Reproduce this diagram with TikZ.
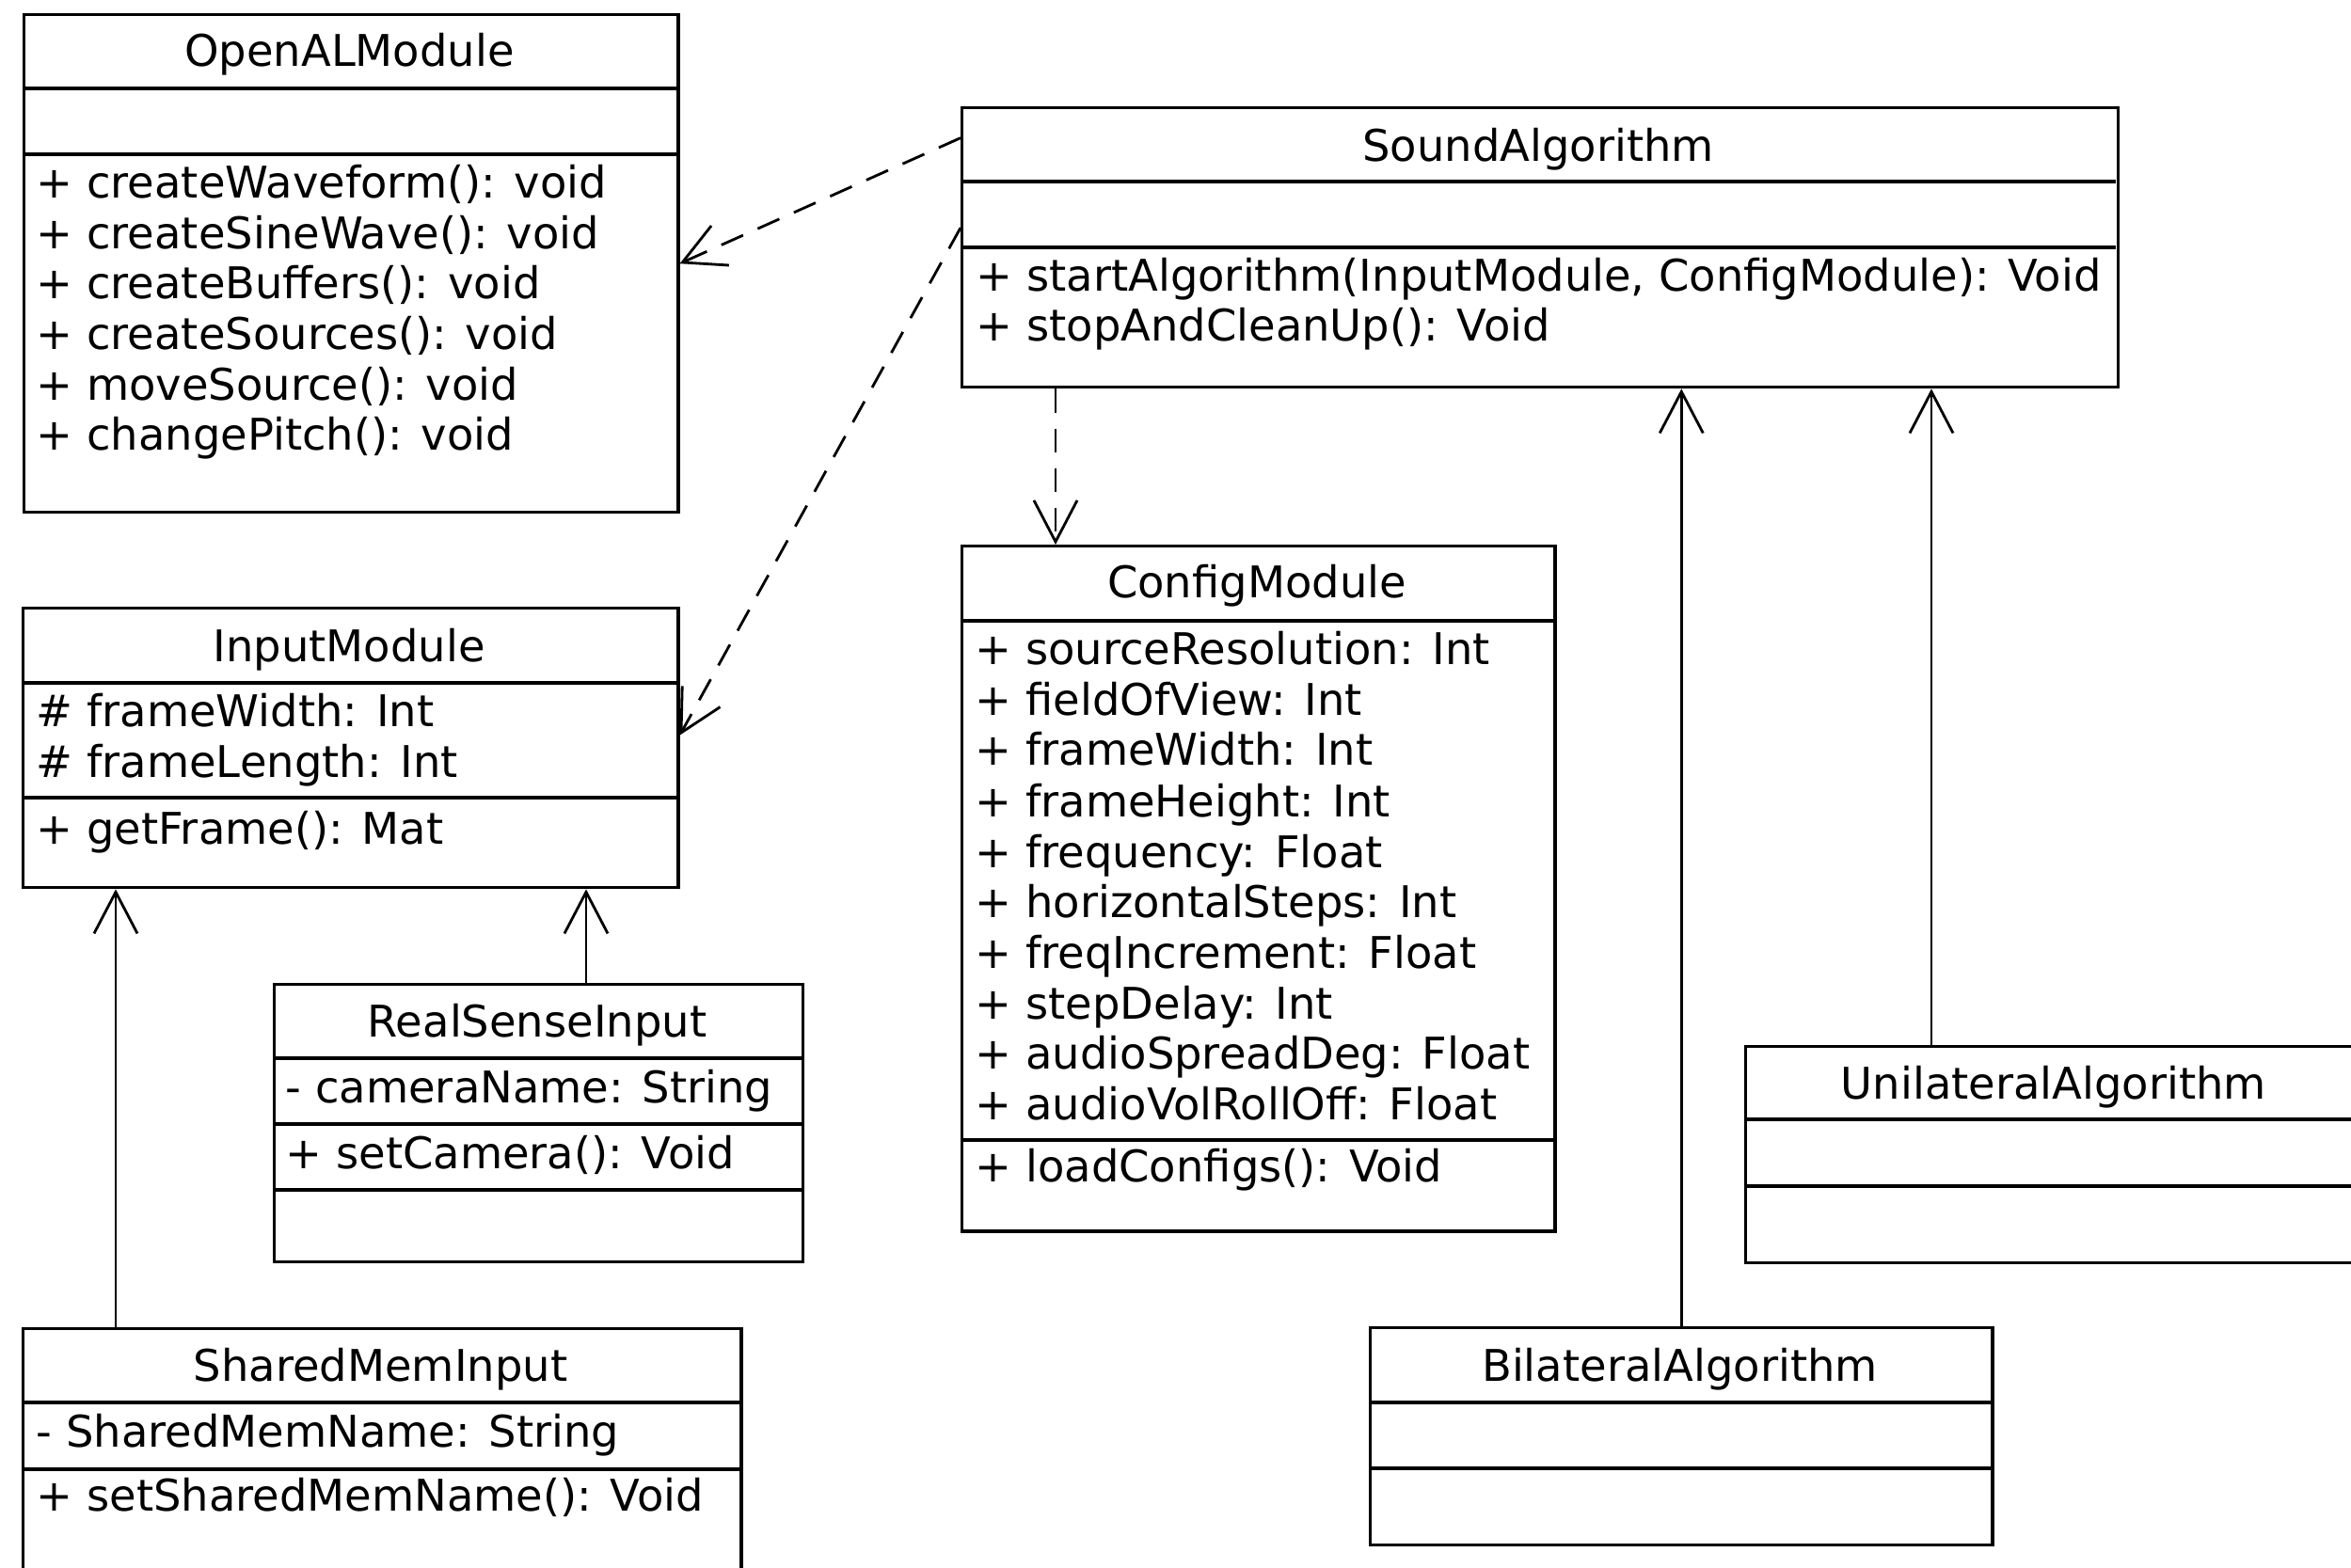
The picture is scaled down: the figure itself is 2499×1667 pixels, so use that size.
\documentclass[tikz,border=0pt]{standalone}
\usepackage{fontspec}
\setmainfont{DejaVu Sans}
\usetikzlibrary{arrows.meta,calc}
\begin{document}
\begin{tikzpicture}[x=0.01cm,y=-0.01cm,
  cls/.style={draw,line width=0.9pt,inner sep=0pt,anchor=north west,fill=none},
  title/.style={anchor=base,inner sep=0pt,font=\fontsize{13.2}{15.3}\selectfont},
  txt/.style={anchor=base west,inner sep=0pt,font=\fontsize{13.2}{15.3}\selectfont},
  divider/.style={line width=0.9pt},
  dep/.style={line width=0.8pt,dash pattern=on 7.2pt off 4.8pt,-{Straight Barb[length=4.4mm,width=4.6mm]}},
  gen/.style={line width=0.8pt,-{Straight Barb[length=4.4mm,width=4.6mm]}}]
\useasboundingbox (0,0) rectangle (2499,1667);
\clip (0,0) rectangle (2499,1667);
\fill[white] (0,0) rectangle (2499,1667);

% OpenALModule
\node[cls,minimum width=6.95cm,minimum height=5.29cm] (openal) at (24,14) {};
\draw[divider] (24,94) -- (719,94);
\draw[divider] (24,164) -- (719,164);
\node[title] (openalT) at (371.5,71) {OpenALModule};
\node[txt] (openal1) at (38,211) {+ createWaveform(): void};
\node[txt] (openal2) at (38,265) {+ createSineWave(): void};
\node[txt] (openal3) at (38,318) {+ createBuffers(): void};
\node[txt] (openal4) at (38,372) {+ createSources(): void};
\node[txt] (openal5) at (38,426) {+ moveSource(): void};
\node[txt] (openal6) at (38,479) {+ changePitch(): void};

% SoundAlgorithm
\node[cls,minimum width=12.28cm,minimum height=2.97cm] (sound) at (1021,113) {};
\draw[divider] (1021,193) -- (2249,193);
\draw[divider] (1021,263) -- (2249,263);
\node[title] (soundT) at (1635,172) {SoundAlgorithm};
\node[txt] (sound1) at (1037,310) {+ startAlgorithm(InputModule, ConfigModule): Void};
\node[txt] (sound2) at (1037,363) {+ stopAndCleanUp(): Void};

% InputModule
\node[cls,minimum width=6.96cm,minimum height=2.97cm] (input) at (23,645) {};
\draw[divider] (23,726) -- (719,726);
\draw[divider] (23,848) -- (719,848);
\node[title] (inputT) at (371,703) {InputModule};
\node[txt] (input1) at (38,772) {\# frameWidth: Int};
\node[txt] (input2) at (38,826) {\# frameLength: Int};
\node[txt] (input3) at (38,897) {+ getFrame(): Mat};

% ConfigModule
\node[cls,minimum width=6.30cm,minimum height=7.28cm] (config) at (1021,579) {};
\draw[divider] (1021,660) -- (1651,660);
\draw[divider] (1021,1212) -- (1651,1212);
\node[title] (configT) at (1336,636) {ConfigModule};
\node[txt] (config1) at (1036,707) {+ sourceResolution: Int};
\node[txt] (config2) at (1036,761) {+ fieldOfView: Int};
\node[txt] (config3) at (1036,814) {+ frameWidth: Int};
\node[txt] (config4) at (1036,868) {+ frameHeight: Int};
\node[txt] (config5) at (1036,922) {+ frequency: Float};
\node[txt] (config6) at (1036,975) {+ horizontalSteps: Int};
\node[txt] (config7) at (1036,1029) {+ freqIncrement: Float};
\node[txt] (config8) at (1036,1083) {+ stepDelay: Int};
\node[txt] (config9) at (1036,1136) {+ audioSpreadDeg: Float};
\node[txt] (config10) at (1036,1190) {+ audioVolRollOff: Float};
\node[txt] (config11) at (1036,1256) {+ loadConfigs(): Void};

% RealSenseInput
\node[cls,minimum width=5.62cm,minimum height=2.95cm] (real) at (290,1045) {};
\draw[divider] (290,1125) -- (852,1125);
\draw[divider] (290,1195) -- (852,1195);
\draw[divider] (290,1265) -- (852,1265);
\node[title] (realT) at (571,1102) {RealSenseInput};
\node[txt] (real1) at (303,1172) {- cameraName: String};
\node[txt] (real2) at (303,1242) {+ setCamera(): Void};

% SharedMemInput
\node[cls,minimum width=7.63cm,minimum height=2.95cm] (shared) at (23,1411) {};
\draw[divider] (23,1491) -- (786,1491);
\draw[divider] (23,1562) -- (786,1562);
\node[title] (sharedT) at (404.5,1468) {SharedMemInput};
\node[txt] (shared1) at (38,1538) {- SharedMemName: String};
\node[txt] (shared2) at (38,1606) {+ setSharedMemName(): Void};

% UnilateralAlgorithm
\node[cls,minimum width=6.58cm,minimum height=2.30cm] (uni) at (1854,1111) {};
\draw[divider] (1854,1190) -- (2512,1190);
\draw[divider] (1854,1261) -- (2512,1261);
\node[title] (uniT) at (2183,1168) {UnilateralAlgorithm};

% BilateralAlgorithm
\node[cls,minimum width=6.61cm,minimum height=2.31cm] (bil) at (1455,1410) {};
\draw[divider] (1455,1491) -- (2116,1491);
\draw[divider] (1455,1561) -- (2116,1561);
\node[title] (bilT) at (1785.5,1468) {BilateralAlgorithm};

% dependencies
\draw[dep] ($(sound.north west)!0.112!(sound.south west)$) -- (openal.east);
\draw[dep] ($(sound.north west)!0.43!(sound.south west)$) -- ($(input.north east)!0.455!(input.south east)$);
\draw[dep] ($(sound.south west)+(101,0)$) -- ($(config.north west)+(101,0)$);

% generalisations
\draw[gen] ($(shared.north west)+(100,0)$) -- ($(input.south west)+(100,0)$);
\draw[gen] ($(real.north west)+(333,0)$) -- ($(input.south west)+(600,0)$);
\draw[gen] (bil.north) -- (bil.north |- sound.south);
\draw[gen] ($(uni.north west)+(199,0)$) -- ($(sound.south west)+(1032,0)$);
\end{tikzpicture}
\end{document}
